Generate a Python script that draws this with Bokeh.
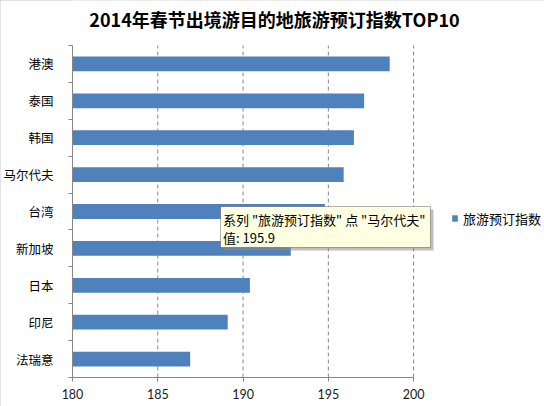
from bokeh.plotting import figure
from bokeh.models import (ColumnDataSource, FixedTicker, Range1d, Legend, LegendItem,
                          Label, BoxAnnotation)
from bokeh.embed import file_html
from bokeh.resources import INLINE

# ---- data ----
title_text = "2014年春节出境游目的地旅游预订指数TOP10"
series_name = "旅游预订指数"
categories = ["港澳", "泰国", "韩国", "马尔代夫", "台湾", "新加坡", "日本", "印尼", "法瑞意"]
values = [198.6, 197.1, 196.5, 195.9, 194.8, 192.8, 190.4, 189.1, 186.9]
x_ticks = [180, 185, 190, 195, 200]
tooltip_category = "马尔代夫"
tooltip_value = 195.9

# ---- layout (pixels) ----
W, H = 544, 406
LEFT, BOTTOM = 68, 29          # frame offsets
PX_PER_UNIT = 17.2             # horizontal scale
TOP_PAD = 45                   # space above the first category (title area)

n = len(categories)
frame_w = W - LEFT
frame_h = H - BOTTOM
x_end = x_ticks[0] + frame_w / PX_PER_UNIT
y_end = n * frame_h / (frame_h - TOP_PAD)

ypos = [n - 1 - i + 0.5 for i in range(n)]
src = ColumnDataSource(dict(cat=categories, val=values, y=ypos, left=[x_ticks[0]] * n))

CJK = "Noto Sans CJK SC"
NUM = "Lato"
GRAY = "#868686"

p = figure(width=W, height=H, output_backend="svg", toolbar_location=None,
           x_range=Range1d(x_ticks[0], x_end), y_range=Range1d(0, y_end),
           min_border_left=LEFT, min_border_right=0, min_border_top=0,
           min_border_bottom=BOTTOM)
p.styles = {"outline": "1px solid #d9d9d9", "outline-offset": "-1px"}
p.outline_line_color = None
p.background_fill_color = "white"
p.border_fill_color = "white"
p.xgrid.grid_line_color = None
p.ygrid.grid_line_color = None

# dashed vertical grid lines, limited to the category area
grid_x = x_ticks[1:]
p.segment(x0=grid_x, x1=grid_x, y0=[0] * len(grid_x), y1=[n] * len(grid_x),
          line_color=GRAY, line_width=1, line_dash="4 3")

r = p.hbar(y="y", left="left", right="val", height=0.4, source=src,
           fill_color="#4F81BD", line_color=None)

# x axis
xa = p.xaxis[0]
xa.bounds = (x_ticks[0], x_ticks[-1])
xa.ticker = FixedTicker(ticks=x_ticks, minor_ticks=[])
xa.axis_line_color = GRAY
xa.major_tick_line_color = GRAY
xa.major_tick_out = 4
xa.major_tick_in = 0
xa.minor_tick_line_color = None
xa.major_label_text_font = NUM
xa.major_label_text_font_size = "12.5px"
xa.major_label_text_color = "#1a1a1a"
xa.major_label_standoff = 7

# y axis: labels at category centres, tick marks at category boundaries
ya = p.yaxis[0]
ya.bounds = (0, n)
ya.ticker = FixedTicker(ticks=ypos, minor_ticks=list(range(n + 1)))
ya.major_label_overrides = {y: c for y, c in zip(ypos, categories)}
ya.axis_line_color = GRAY
ya.major_tick_line_color = None
ya.major_tick_out = 0
ya.major_tick_in = 0
ya.minor_tick_line_color = GRAY
ya.minor_tick_out = 4
ya.minor_tick_in = 0
ya.major_label_text_font = CJK
ya.major_label_text_font_size = "12.5px"
ya.major_label_text_color = "#000000"
ya.major_label_standoff = 15

# title
p.add_layout(Label(x=202, y=frame_h - 18.5, x_units="screen", y_units="screen",
                   text=title_text, text_font=CJK, text_font_size="18px",
                   text_font_style="bold", text_align="center", text_baseline="middle",
                   text_color="#000000"))

# legend
legend = Legend(items=[LegendItem(label=series_name, renderers=[r])],
                location=(379, 149.5), glyph_width=7, glyph_height=8, label_standoff=5,
                label_height=13, padding=0, margin=0, border_line_color=None,
                background_fill_alpha=0, label_text_font=CJK,
                label_text_font_size="13px", label_text_color="#000000")
p.add_layout(legend)

# hover tooltip as shown in the reference screenshot
p.add_layout(BoxAnnotation(left=151, right=361, bottom=127, top=168,
                           left_units="screen", right_units="screen",
                           bottom_units="screen", top_units="screen",
                           fill_color="#8c8c8c", fill_alpha=0.55, line_color=None,
                           level="overlay"))
p.add_layout(BoxAnnotation(left=148, right=358, bottom=130, top=171,
                           left_units="screen", right_units="screen",
                           bottom_units="screen", top_units="screen",
                           fill_color="#FFFFE1", fill_alpha=1, line_color="#000000",
                           line_width=1, level="overlay"))
p.add_layout(Label(x=150.5, y=157.7, x_units="screen", y_units="screen",
                   text='系列 "%s" 点 "%s"' % (series_name, tooltip_category),
                   text_font=CJK, text_font_size="13px", text_baseline="middle",
                   text_color="#000000", level="overlay"))
p.add_layout(Label(x=150.5, y=140, x_units="screen", y_units="screen",
                   text="值: %s" % tooltip_value,
                   text_font=CJK, text_font_size="13px", text_baseline="middle",
                   text_color="#000000", level="overlay"))

open("out.html", "w").write(file_html(p, INLINE))
